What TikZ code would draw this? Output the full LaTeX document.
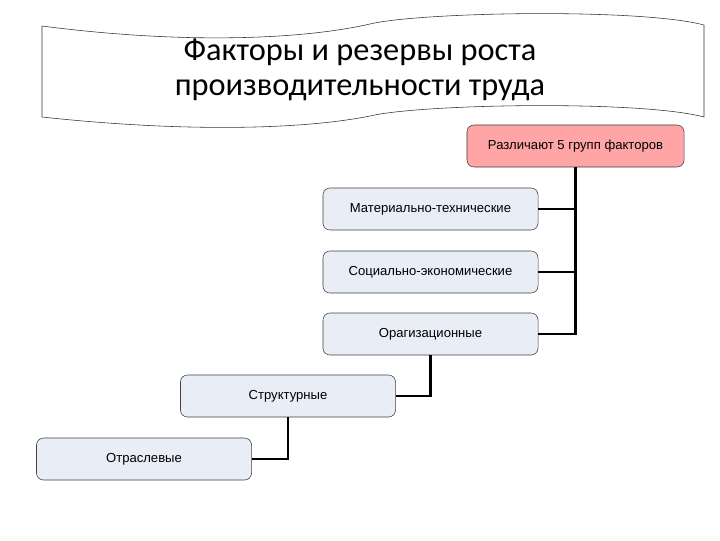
\documentclass[tikz,border=0pt]{standalone}
\usepackage{fontspec}
\setmainfont{Liberation Sans}
\newfontfamily\titlefont{Carlito}
\usetikzlibrary{positioning}
\definecolor{boxfill}{HTML}{E9EEF6}
\definecolor{groupfill}{HTML}{FFA5A5}

\begin{document}
\begin{tikzpicture}[x=0.025cm, y=-0.025cm,
  every node/.style={font=\fontsize{9.3}{11}\selectfont},
  factor/.style={draw=black!75, rounded corners=5pt, fill=boxfill, minimum width=5.375cm, minimum height=1.05cm},
  link/.style={line width=1.8pt}]
  \useasboundingbox (0,0) rectangle (720,540);
  % wavy title banner
  \draw[black!80, fill=white] (42,26) .. controls (180,44) and (300,40) .. (370,24)
    .. controls (420,12) and (640,8) .. (704,25) -- (704,117)
    .. controls (640,100) and (420,104) .. (370,116)
    .. controls (300,130) and (180,132) .. (42,117) -- cycle;
  \node[align=center, font=\titlefont\fontsize{23}{25}\selectfont] (title) at (360,70) {Факторы и резервы роста\\производительности труда};
  \node[factor, fill=groupfill, minimum width=5.425cm] (groups) at (575.5,146) {Различают 5 групп факторов};
  \node[factor] (mat) at (430.5,209) {Материально-технические};
  \node[factor] (soc) at (430.5,272) {Социально-экономические};
  \node[factor] (org) at (430.5,334) {Орагизационные};
  \node[factor] (str) at (288,396) {Структурные};
  \node[factor] (otr) at (144,459) {Отраслевые};
  \draw[link] (mat.east) -| (groups.south);
  \draw[link] (soc.east) -| (groups.south);
  \draw[link] (org.east) -| (groups.south);
  \draw[link] (org.south) |- (str.east);
  \draw[link] (str.south) |- (otr.east);
\end{tikzpicture}
\end{document}
